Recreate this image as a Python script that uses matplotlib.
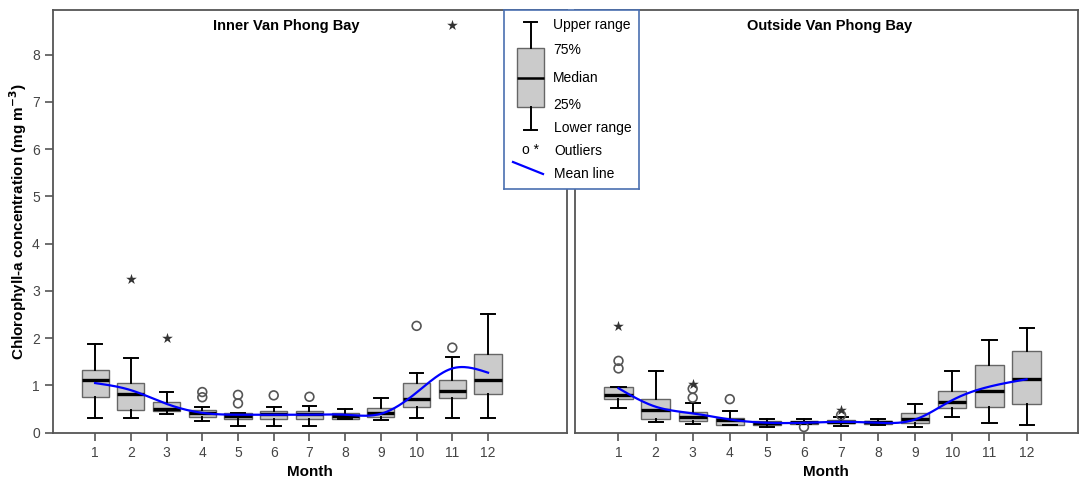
import matplotlib
matplotlib.use('Agg')
import matplotlib.pyplot as plt
import numpy as np

plt.rcParams['font.family'] = ['Liberation Sans', 'DejaVu Sans']

months = np.arange(1, 13)

# Inner Van Phong Bay
in_whislo = [0.32, 0.32, 0.40, 0.25, 0.15, 0.15, 0.15, 0.28, 0.27, 0.32, 0.32, 0.32]
in_q1 = [0.75, 0.49, 0.45, 0.33, 0.28, 0.28, 0.30, 0.30, 0.34, 0.54, 0.74, 0.82]
in_med = [1.12, 0.82, 0.50, 0.41, 0.35, 0.39, 0.39, 0.35, 0.41, 0.71, 0.88, 1.12]
in_q3 = [1.33, 1.06, 0.64, 0.48, 0.41, 0.46, 0.45, 0.42, 0.52, 1.05, 1.12, 1.67]
in_whishi = [1.87, 1.58, 0.87, 0.55, 0.41, 0.54, 0.57, 0.51, 0.74, 1.27, 1.60, 2.52]
in_mean = [1.05, 0.90, 0.61, 0.42, 0.38, 0.38, 0.38, 0.38, 0.40, 0.85, 1.36, 1.27]
in_circ_m = [4, 4, 5, 5, 6, 7, 10, 11]
in_circ_v = [0.86, 0.75, 0.80, 0.62, 0.79, 0.76, 2.26, 1.80]
in_star_m = [2, 3, 11]
in_star_v = [3.26, 2.00, 8.63]

# Outside Van Phong Bay
out_whislo = [0.52, 0.23, 0.18, 0.17, 0.13, 0.18, 0.14, 0.16, 0.13, 0.33, 0.20, 0.16]
out_q1 = [0.71, 0.28, 0.25, 0.17, 0.16, 0.18, 0.20, 0.18, 0.20, 0.52, 0.55, 0.60]
out_med = [0.80, 0.48, 0.34, 0.27, 0.21, 0.22, 0.23, 0.22, 0.30, 0.65, 0.89, 1.14]
out_q3 = [0.975, 0.71, 0.44, 0.31, 0.25, 0.23, 0.26, 0.25, 0.41, 0.88, 1.43, 1.73]
out_whishi = [0.975, 1.30, 0.63, 0.45, 0.30, 0.30, 0.33, 0.30, 0.60, 1.30, 1.96, 2.22]
out_mean = [0.94, 0.55, 0.41, 0.28, 0.21, 0.21, 0.23, 0.21, 0.28, 0.69, 0.975, 1.13]
out_circ_m = [1, 1, 3, 3, 4, 6, 7]
out_circ_v = [1.52, 1.36, 0.93, 0.74, 0.71, 0.12, 0.37]
out_star_m = [1, 3, 7]
out_star_v = [2.26, 1.03, 0.47]

legend_labels = ['Upper range', '75%', 'Median', '25%', 'Lower range', 'Outliers', 'Mean line']


def smooth(x, y, n=300):
    # natural cubic spline through the monthly means
    x = np.asarray(x, float)
    y = np.asarray(y, float)
    k = len(x)
    h = np.diff(x)
    A = np.zeros((k, k))
    b = np.zeros(k)
    A[0, 0] = A[-1, -1] = 1
    for i in range(1, k - 1):
        A[i, i - 1] = h[i - 1]
        A[i, i] = 2 * (h[i - 1] + h[i])
        A[i, i + 1] = h[i]
        b[i] = 6 * ((y[i + 1] - y[i]) / h[i] - (y[i] - y[i - 1]) / h[i - 1])
    M = np.linalg.solve(A, b)
    xs = np.linspace(x[0], x[-1], n)
    idx = np.clip(np.searchsorted(x, xs) - 1, 0, k - 2)
    x0, x1 = x[idx], x[idx + 1]
    hh = x1 - x0
    t1 = x1 - xs
    t0 = xs - x0
    ys = (M[idx] * t1 ** 3 + M[idx + 1] * t0 ** 3) / (6 * hh) \
        + (y[idx] / hh - M[idx] * hh / 6) * t1 + (y[idx + 1] / hh - M[idx + 1] * hh / 6) * t0
    return xs, ys


def draw_panel(ax, lo, q1, med, q3, hi, mean, cm, cv, sm, sv):
    stats = []
    for i in range(12):
        stats.append({'whislo': lo[i], 'q1': q1[i], 'med': med[i], 'q3': q3[i],
                      'whishi': hi[i], 'fliers': []})
    ax.bxp(stats, positions=months, widths=0.76, patch_artist=True, showfliers=False,
           boxprops=dict(facecolor='#cbcbcb', edgecolor='#666666', linewidth=1.0),
           whiskerprops=dict(color='black', linewidth=1.4),
           capprops=dict(color='black', linewidth=1.4),
           medianprops=dict(color='black', linewidth=2.4))
    ax.scatter(cm, cv, s=40, facecolors='none', edgecolors='#555555', linewidths=1.2, zorder=4)
    ax.scatter(sm, sv, s=65, marker='*', color='#333333', linewidths=0, zorder=4)
    xs, ys = smooth(months, mean)
    ax.plot(xs, ys, color='#0000ff', linewidth=1.6, zorder=5)
    ax.set_ylim(0, 8.94)
    ax.set_xticks(months)
    ax.set_xticklabels([str(m) for m in months])
    ax.tick_params(axis='both', colors='#555555', labelcolor='#444444', labelsize=10,
                   length=6, width=1.2, direction='out')
    for s in ax.spines.values():
        s.set_color('#555555')
        s.set_linewidth(1.3)
    ax.set_xlabel('Month', fontsize=11, fontweight='bold', labelpad=4)


fig = plt.figure(figsize=(10.81, 4.84), dpi=100)
ax1 = fig.add_axes([0.049, 0.106, 0.4755, 0.873])
ax2 = fig.add_axes([0.532, 0.106, 0.465, 0.873])

draw_panel(ax1, in_whislo, in_q1, in_med, in_q3, in_whishi, in_mean,
           in_circ_m, in_circ_v, in_star_m, in_star_v)
draw_panel(ax2, out_whislo, out_q1, out_med, out_q3, out_whishi, out_mean,
           out_circ_m, out_circ_v, out_star_m, out_star_v)

ax1.set_xlim(-0.18, 14.21)
ax2.set_xlim(-0.17, 13.38)
ax1.set_yticks(range(0, 9))
ax2.set_yticks([])
ax1.set_ylabel('Chlorophyll-a concentration (mg m$^{\\mathbf{-3}}$)', fontsize=11,
               fontweight='bold', labelpad=2)

ax1.text(0.454, 0.962, 'Inner Van Phong Bay', transform=ax1.transAxes, ha='center',
         va='center', fontsize=10.5, fontweight='bold')
ax2.text(0.507, 0.962, 'Outside Van Phong Bay', transform=ax2.transAxes, ha='center',
         va='center', fontsize=10.5, fontweight='bold')

# legend key drawn in its own small axes (pixel-like units)
lg = fig.add_axes([504 / 1081, 1 - 189 / 484, 135 / 1081, 179 / 484])
lg.set_xticks([])
lg.set_yticks([])
for s in lg.spines.values():
    s.set_color('#4a6fb0')
    s.set_linewidth(1.2)
lg.bxp([{'whislo': 120, 'q1': 97, 'med': 68, 'q3': 38, 'whishi': 12, 'fliers': []}],
       positions=[26.5], widths=27, patch_artist=True, showfliers=False,
       boxprops=dict(facecolor='#cbcbcb', edgecolor='#666666', linewidth=1.0),
       whiskerprops=dict(color='black', linewidth=1.4),
       capprops=dict(color='black', linewidth=1.4),
       medianprops=dict(color='black', linewidth=1.8), manage_ticks=False)
lg.set_xlim(0, 135)
lg.set_ylim(179, 0)
label_y = [15, 40, 68, 95, 118, 141, 164]
for lab, yy in zip(legend_labels, label_y):
    lg.text(49 if yy < 110 else 50, yy, lab, fontsize=10, va='center', ha='left')
lg.text(26, 140, 'o *', fontsize=10, va='center', ha='center')
lg.plot([9, 39], [152, 164], color='#0000ff', linewidth=1.6)

fig.savefig('out.png', dpi=100)
